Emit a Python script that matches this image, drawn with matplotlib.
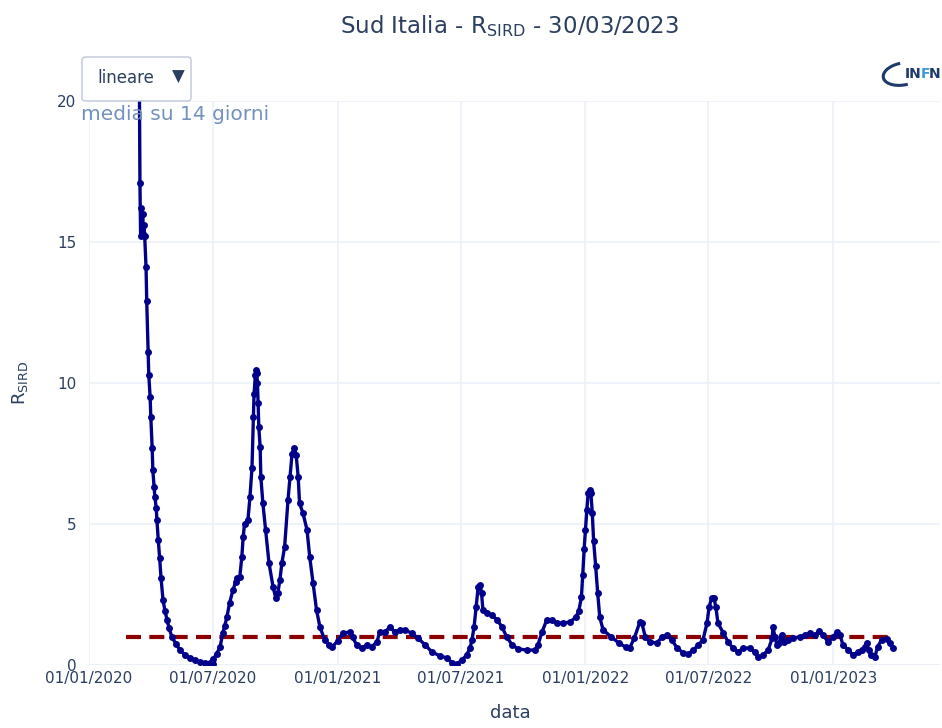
"""Sud Italia - R_SIRD plot"""

import matplotlib
matplotlib.use("Agg")
import numpy as np
import pandas as pd
import matplotlib.pyplot as plt
import matplotlib.dates as mdates
from matplotlib.patches import FancyBboxPatch, Arc

# R_SIRD, media su 14 giorni
dates = [
    "2020-03-14", "2020-03-15", "2020-03-16", "2020-03-17", "2020-03-18", "2020-03-19",
    "2020-03-20", "2020-03-21", "2020-03-22", "2020-03-23", "2020-03-25", "2020-03-26",
    "2020-03-28", "2020-03-29", "2020-03-31", "2020-04-01", "2020-04-03", "2020-04-04",
    "2020-04-06", "2020-04-07", "2020-04-09", "2020-04-10", "2020-04-12", "2020-04-14",
    "2020-04-16", "2020-04-19", "2020-04-22", "2020-04-25", "2020-04-28", "2020-05-02",
    "2020-05-08", "2020-05-14", "2020-05-21", "2020-05-29", "2020-06-05", "2020-06-12",
    "2020-06-20", "2020-06-27", "2020-07-01", "2020-07-02", "2020-07-07", "2020-07-12",
    "2020-07-16", "2020-07-19", "2020-07-22", "2020-07-26", "2020-07-31", "2020-08-04",
    "2020-08-06", "2020-08-10", "2020-08-13", "2020-08-15", "2020-08-17", "2020-08-22",
    "2020-08-25", "2020-08-28", "2020-08-30", "2020-08-31", "2020-09-02", "2020-09-03",
    "2020-09-04", "2020-09-05", "2020-09-06", "2020-09-07", "2020-09-09", "2020-09-10",
    "2020-09-13", "2020-09-17", "2020-09-22", "2020-09-28", "2020-10-02", "2020-10-05",
    "2020-10-08", "2020-10-11", "2020-10-15", "2020-10-20", "2020-10-23", "2020-10-26",
    "2020-10-29", "2020-11-01", "2020-11-04", "2020-11-06", "2020-11-11", "2020-11-17",
    "2020-11-21", "2020-11-26", "2020-12-01", "2020-12-06", "2020-12-13", "2020-12-19",
    "2020-12-24", "2021-01-01", "2021-01-09", "2021-01-19", "2021-01-23", "2021-01-29",
    "2021-02-06", "2021-02-13", "2021-02-20", "2021-02-28", "2021-03-04", "2021-03-12",
    "2021-03-19", "2021-03-26", "2021-04-03", "2021-04-10", "2021-04-20", "2021-04-29",
    "2021-05-10", "2021-05-20", "2021-06-01", "2021-06-11", "2021-06-19", "2021-06-26",
    "2021-07-03", "2021-07-10", "2021-07-15", "2021-07-18", "2021-07-21", "2021-07-24",
    "2021-07-27", "2021-07-30", "2021-08-01", "2021-08-03", "2021-08-09", "2021-08-16",
    "2021-08-24", "2021-08-31", "2021-09-07", "2021-09-15", "2021-09-24", "2021-10-07",
    "2021-10-19", "2021-10-23", "2021-10-29", "2021-11-05", "2021-11-13", "2021-11-20",
    "2021-11-29", "2021-12-09", "2021-12-18", "2021-12-22", "2021-12-26", "2021-12-28",
    "2021-12-30", "2022-01-01", "2022-01-03", "2022-01-05", "2022-01-07", "2022-01-09",
    "2022-01-11", "2022-01-13", "2022-01-16", "2022-01-19", "2022-01-22", "2022-01-27",
    "2022-02-08", "2022-02-19", "2022-03-01", "2022-03-07", "2022-03-14", "2022-03-22",
    "2022-03-25", "2022-03-30", "2022-04-06", "2022-04-16", "2022-04-24", "2022-05-01",
    "2022-05-08", "2022-05-16", "2022-05-25", "2022-06-01", "2022-06-09", "2022-06-16",
    "2022-06-23", "2022-06-29", "2022-07-02", "2022-07-06", "2022-07-09", "2022-07-12",
    "2022-07-15", "2022-07-23", "2022-07-30", "2022-08-06", "2022-08-14", "2022-08-21",
    "2022-08-31", "2022-09-07", "2022-09-12", "2022-09-19", "2022-09-27", "2022-10-03",
    "2022-10-04", "2022-10-07", "2022-10-10", "2022-10-13", "2022-10-17", "2022-10-20",
    "2022-10-26", "2022-11-03", "2022-11-13", "2022-11-20", "2022-11-28", "2022-12-05",
    "2022-12-11", "2022-12-17", "2022-12-24", "2023-01-01", "2023-01-06", "2023-01-11",
    "2023-01-15", "2023-01-23", "2023-01-30", "2023-02-06", "2023-02-12", "2023-02-16",
    "2023-02-19", "2023-02-22", "2023-02-26", "2023-03-03", "2023-03-07", "2023-03-13",
    "2023-03-21", "2023-03-25", "2023-03-30",
]
r_sird = [
    26.0, 21.5, 17.1, 15.2, 16.2, 15.3,
    16.0, 15.3, 15.6, 15.2, 14.1, 12.9,
    11.1, 10.3, 9.5, 8.8, 7.7, 6.9,
    6.3, 5.96, 5.57, 5.14, 4.43, 3.8,
    3.1, 2.3, 1.9, 1.6, 1.3, 1.0,
    0.75, 0.53, 0.37, 0.25, 0.16, 0.1,
    0.08, 0.07, 0.04, 0.2, 0.4, 0.64,
    1.13, 1.4, 1.7, 2.2, 2.66, 2.95,
    3.08, 3.12, 3.83, 4.54, 5.0, 5.14,
    5.96, 7.0, 8.8, 9.6, 10.3, 10.46,
    10.35, 10.0, 9.3, 8.44, 7.73, 6.67,
    5.74, 4.79, 3.62, 2.77, 2.38, 2.55,
    3.0, 3.62, 4.18, 5.85, 6.67, 7.5,
    7.7, 7.45, 6.67, 5.74, 5.39, 4.79,
    3.83, 2.9, 1.95, 1.35, 0.89, 0.72,
    0.64, 0.85, 1.13, 1.17, 1.0, 0.71,
    0.6, 0.71, 0.64, 0.82, 1.17, 1.17,
    1.35, 1.17, 1.24, 1.24, 1.13, 0.96,
    0.71, 0.46, 0.32, 0.25, 0.07, 0.04,
    0.18, 0.35, 0.6, 0.9, 1.35, 2.06,
    2.77, 2.84, 2.55, 1.95, 1.84, 1.77,
    1.6, 1.35, 1.0, 0.71, 0.57, 0.53,
    0.53, 0.71, 1.17, 1.6, 1.6, 1.49,
    1.49, 1.52, 1.7, 1.9, 2.4, 3.2,
    4.1, 4.8, 5.5, 6.1, 6.2, 6.1,
    5.4, 4.4, 3.5, 2.55, 1.7, 1.24,
    1.0, 0.78, 0.64, 0.6, 0.96, 1.52,
    1.49, 1.0, 0.82, 0.78, 1.0, 1.06,
    0.89, 0.6, 0.43, 0.39, 0.53, 0.71,
    0.89, 1.49, 2.06, 2.38, 2.38, 2.06,
    1.49, 1.13, 0.82, 0.6, 0.46, 0.6,
    0.6, 0.46, 0.28, 0.35, 0.53, 0.96,
    1.35, 1.0, 0.71, 0.78, 1.06, 0.82,
    0.89, 0.96, 1.0, 1.06, 1.13, 1.06,
    1.2, 1.06, 0.82, 1.0, 1.17, 1.06,
    0.71, 0.53, 0.35, 0.46, 0.53, 0.64,
    0.78, 0.53, 0.35, 0.28, 0.64, 0.89,
    0.92, 0.78, 0.6,
]

# soglia R = 1
soglia_dates = ["2020-02-24", "2023-03-30"]
soglia = [1, 1]

tick_dates = ["2020-01-01", "2020-07-01", "2021-01-01", "2021-07-01",
              "2022-01-01", "2022-07-01", "2023-01-01"]
tick_labels = ["01/01/2020", "01/07/2020", "01/01/2021", "01/07/2021",
               "01/01/2022", "01/07/2022", "01/01/2023"]
y_ticks = [0, 5, 10, 15, 20]

TXT = "#2a3f5f"
GRID = "#EBF0F8"
W, H = 942, 728

fig = plt.figure(figsize=(W / 100, H / 100), dpi=100)
ax = fig.add_axes([89 / W, 63 / H, 851 / W, 564 / H])

x = pd.to_datetime(dates)
ax.plot(pd.to_datetime(soglia_dates), soglia, color="#8B0000", lw=3,
        dashes=(3.6, 2.0), zorder=2)
ax.plot(x, r_sird, color="#00008B", lw=2.4, marker="o", ms=5,
        markeredgewidth=0, zorder=3)

ax.set_ylim(0, 20)
ax.set_xlim(pd.Timestamp("2020-01-01"), pd.Timestamp("2023-06-07"))
ax.set_xticks(pd.to_datetime(tick_dates))
ax.set_xticklabels(tick_labels)
ax.set_yticks(y_ticks)
ax.grid(True, color=GRID, lw=1.2)
ax.set_axisbelow(True)
for s in ax.spines.values():
    s.set_visible(False)
ax.axhline(0, color=GRID, lw=2, zorder=1)
ax.tick_params(length=0, labelsize=11, labelcolor=TXT)
ax.tick_params(axis="y", pad=9)
ax.tick_params(axis="x", pad=4)

# titoli
fig.text(510 / W, 1 - 26 / H, r"Sud Italia - R$_\mathregular{SIRD}$ - 30/03/2023",
         ha="center", va="center", fontsize=16.5, color=TXT)
fig.text(510 / W, 1 - 713 / H, "data", ha="center", va="center",
         fontsize=13, color=TXT)
fig.text(20 / W, 1 - 383 / H, r"R$_\mathregular{SIRD}$", ha="center", va="center",
         rotation=90, fontsize=13, color=TXT)
fig.text(81 / W, 1 - 115 / H, "media su 14 giorni", ha="left", va="center",
         fontsize=14.5, color="#7391BD")

# menu a tendina
box = FancyBboxPatch((82 / W, 1 - 101 / H), 109 / W, 44 / H,
                     boxstyle="round,pad=0,rounding_size=0.004",
                     transform=fig.transFigure, facecolor="white",
                     edgecolor="#BEC8D9", lw=1)
fig.patches.append(box)
fig.text(97 / W, 1 - 78 / H, "lineare", ha="left", va="center",
         fontsize=12, color=TXT)
fig.text(178 / W, 1 - 77 / H, "\u25BC", ha="center", va="center",
         fontsize=12, color=TXT)

# logo INFN
arc = Arc((903 / 100, (H - 74) / 100), 0.40, 0.22, angle=10,
          theta1=95, theta2=285, transform=fig.dpi_scale_trans,
          color="#1D3A6A", lw=2.2)
fig.patches.append(arc)
fig.text(905 / W, 1 - 74 / H, "IN", ha="left", va="center", fontsize=10,
         fontweight="bold", color="#1D3A6A")
fig.text(921 / W, 1 - 74 / H, "F", ha="left", va="center", fontsize=10,
         fontweight="bold", color="#3C9BD6")
fig.text(929 / W, 1 - 74 / H, "N", ha="left", va="center", fontsize=10,
         fontweight="bold", color="#1D3A6A")

fig.savefig("out.png", dpi=100)
